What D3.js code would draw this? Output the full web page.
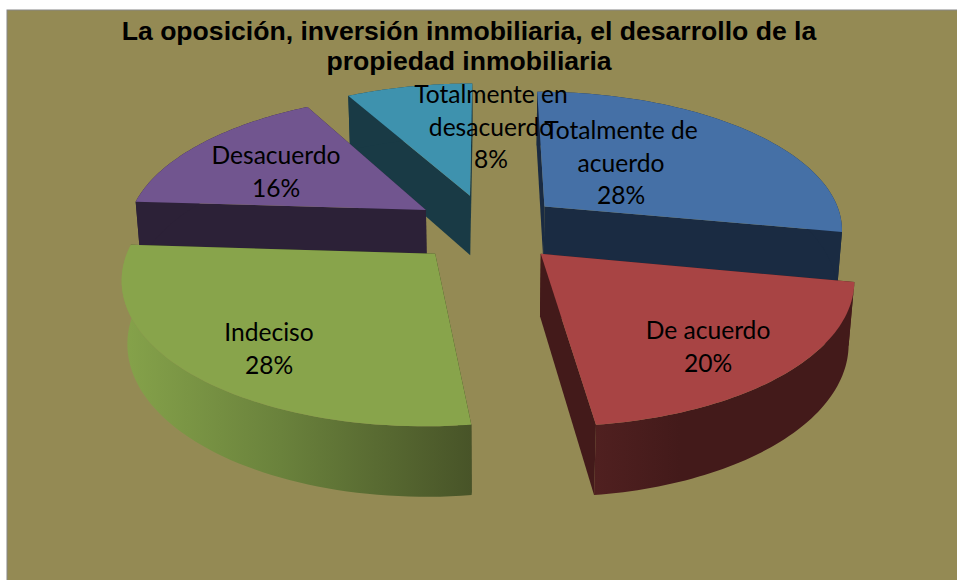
<!DOCTYPE html>
<html>
<head>
<meta charset="utf-8">
<title>La oposición</title>
<script src="https://cdnjs.cloudflare.com/ajax/libs/d3/7.8.5/d3.min.js"></script>
<style>
body { margin: 0; background: #fff; }
svg { display: block; }
.title { font: bold 26.6px "Liberation Sans", Arial, sans-serif; fill: #000; text-anchor: middle; }
.lbl { font: 24.6px Lato, "Open Sans", sans-serif; fill: #000; text-anchor: middle; }
</style>
</head>
<body>
<div id="chart"></div>
<script>
// values, clockwise from the top
var categories = ['Totalmente de acuerdo', 'De acuerdo', 'Indeciso', 'Desacuerdo', 'Totalmente en desacuerdo'];
var values = [28, 20, 28, 16, 8];
var titleLines = ['La oposición, inversión inmobiliaria, el desarrollo de la', 'propiedad inmobiliaria'];

var topColors = ['#4570a6', '#a84444', '#88a44b', '#71558f', '#3e92ae'];
var sideColors = ['#1a2b42', '#431a1a', '#2f3a1a', '#2c2137', '#193a45'];
var drawOrder = [4, 3, 0, 2, 1];

// label lines and where they sit, same order as categories
var labelLines = [
  ['Totalmente de', 'acuerdo', '28%'],
  ['De acuerdo', '20%'],
  ['Indeciso', '28%'],
  ['Desacuerdo', '16%'],
  ['Totalmente en', 'desacuerdo', '8%']
];
var labelAt = [[621, 139], [708, 339], [269, 341], [276, 164], [491, 103]];

var width = 957, height = 580;
var cx = 488, cy = 228, rx = 300, ry = 138, depth = 62;
var persp = 0.15, shrink = 0.015, explode = 0.25;

var svg = d3.select('#chart').append('svg').attr('width', width).attr('height', height);

svg.append('rect')
  .attr('x', 7).attr('y', 10)
  .attr('width', width).attr('height', height)
  .attr('fill', '#948a54').attr('stroke', '#868686');

// wall shading on the front slices
var defs = svg.append('defs');
var gradGreen = defs.append('linearGradient').attr('id', 'wall2')
  .attr('gradientUnits', 'userSpaceOnUse').attr('x1', 125).attr('x2', 471).attr('y1', 0).attr('y2', 0);
gradGreen.append('stop').attr('offset', 0).attr('stop-color', '#85a24a');
gradGreen.append('stop').attr('offset', 0.45).attr('stop-color', '#6a823c');
gradGreen.append('stop').attr('offset', 1).attr('stop-color', '#485428');
var gradRed = defs.append('linearGradient').attr('id', 'wall1')
  .attr('gradientUnits', 'userSpaceOnUse').attr('x1', 595).attr('x2', 680).attr('y1', 0).attr('y2', 0);
gradRed.append('stop').attr('offset', 0).attr('stop-color', '#502020');
gradRed.append('stop').attr('offset', 1).attr('stop-color', '#431a1a');

var pie = d3.pie().sort(null);
var slices = pie(values);

// disc coordinates to screen, z = 0 top face, z = 1 bottom face
function project(x, y, z) {
  var s = 1 / (1 - persp * y + shrink * z);
  return [cx + rx * x * s, cy + (ry * y + depth * z) * s];
}

function rim(a, o, z) {
  return project(o[0] + Math.sin(a), o[1] - Math.cos(a), z);
}

var line = d3.line();

function arcPoints(d, o, z) {
  return d3.range(0, 61).map(function(i) {
    return rim(d.startAngle + (d.endAngle - d.startAngle) * i / 60, o, z);
  });
}

function face(a, o) {
  return line([project(o[0], o[1], 0), rim(a, o, 0), rim(a, o, 1), project(o[0], o[1], 1)]) + 'Z';
}

drawOrder.forEach(function(i) {
  var d = slices[i],
    mid = (d.startAngle + d.endAngle) / 2,
    o = [explode * Math.sin(mid), -explode * Math.cos(mid)],
    side = i === 2 ? 'url(#wall2)' : i === 1 ? 'url(#wall1)' : sideColors[i],
    g = svg.append('g').attr('class', 'slice');

  // far cut face first so the near one covers it
  var cuts = [d.startAngle, d.endAngle].sort(function(a, b) {
    return Math.cos(b) - Math.cos(a);
  });
  cuts.forEach(function(a) {
    g.append('path').attr('d', face(a, o)).attr('fill', sideColors[i]);
  });

  g.append('path')
    .attr('d', line(arcPoints(d, o, 0).concat(arcPoints(d, o, 1).reverse())) + 'Z')
    .attr('fill', side);

  g.append('path')
    .attr('d', line([project(o[0], o[1], 0)].concat(arcPoints(d, o, 0))) + 'Z')
    .attr('fill', topColors[i]);
});

titleLines.forEach(function(t, i) {
  svg.append('text').attr('class', 'title').attr('x', 469).attr('y', 40 + i * 29.5).text(t);
});

labelLines.forEach(function(lines, i) {
  lines.forEach(function(t, j) {
    svg.append('text').attr('class', 'lbl')
      .attr('x', labelAt[i][0])
      .attr('y', labelAt[i][1] + j * 32.5)
      .text(t);
  });
});
</script>
</body>
</html>
